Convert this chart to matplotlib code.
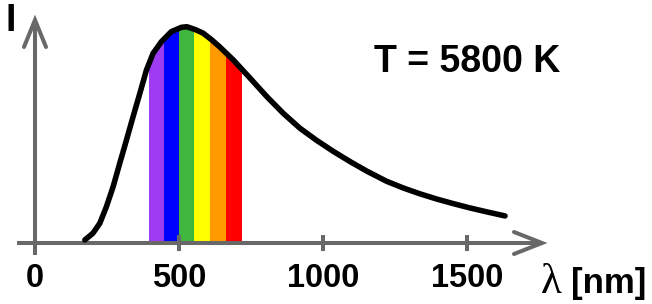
import matplotlib
matplotlib.use('Agg')
import matplotlib.pyplot as plt
from matplotlib.patches import Polygon

# ---- data ----
wavelength_nm = [173, 201, 225, 248, 271, 294, 317, 340, 364, 387, 410, 439, 473, 508,
                 527, 556, 584, 613, 642, 689, 747, 805, 862, 920, 978, 1036, 1094, 1152,
                 1221, 1279, 1337, 1395, 1452, 1510, 1568, 1632]
intensity = [1.4, 4.5, 9.1, 16.8, 25.9, 36.7, 47.3, 58.1, 69.1, 79.9, 87.6, 93.0, 97.6, 99.6,
             99.9, 98.6, 96.9, 93.9, 90.5, 84.5, 76.1, 67.6, 59.9, 53.0, 47.4, 42.3, 37.6, 33.2,
             28.5, 25.4, 22.7, 20.3, 18.2, 16.2, 14.4, 12.5]
band_edges_nm = [396, 448, 500, 552, 607, 662, 718]
band_colors = ['#9d3cf2', '#0000ff', '#3fb73f', '#ffff00', '#ff9900', '#ff0000']
tick_values = [500, 1000, 1500]
label_values = [0, 500, 1000, 1500]
label_texts = ['0', '500', '1000', '1500']
temperature_label = 'T = 5800 K'
y_label = 'I'
x_symbol = '\u03bb'
x_unit = '[nm]'

# ---- figure ----
W, H = 652, 304
fig = plt.figure(figsize=(W / 100, H / 100), dpi=100)
fig.patch.set_facecolor('white')
ax = fig.add_axes([0, 0, 1, 1])

# pixel <-> data mapping (origin px 35, baseline py 243)
X0, XS = 35.0, 0.288
Y0, YS = 243.0, 2.165
def px2x(px):
    return (px - X0) / XS
def py2y(py):
    return (Y0 - py) / YS

ax.set_xlim(px2x(0), px2x(W))
ax.set_ylim(py2y(H), py2y(0))
ax.axis('off')

AX_COL = '#686868'
AX_LW = 2.9
SANS = 'Liberation Sans'

# visible spectrum bands, clipped to the area under the curve
area = Polygon(list(zip(wavelength_nm, intensity)) + [(wavelength_nm[-1], 0), (wavelength_nm[0], 0)],
               closed=True, facecolor='none', edgecolor='none', transform=ax.transData)
ax.add_patch(area)
lefts = band_edges_nm[:-1]
widths = [b - a for a, b in zip(band_edges_nm[:-1], band_edges_nm[1:])]
bars = ax.bar(lefts, [120] * len(lefts), width=widths, bottom=0, align='edge',
              color=band_colors, edgecolor='none', zorder=1)
for b in bars:
    b.set_clip_path(area)

# axes with arrows
ax.plot([px2x(17), px2x(540)], [0, 0], color=AX_COL, lw=AX_LW, solid_capstyle='butt', zorder=2)
ax.plot([px2x(514), px2x(542), px2x(514)], [py2y(232), py2y(243), py2y(254)],
        color=AX_COL, lw=AX_LW, solid_joinstyle='miter', solid_capstyle='round', zorder=2)
ax.plot([0, 0], [py2y(255), py2y(22)], color=AX_COL, lw=AX_LW, solid_capstyle='butt', zorder=2)
ax.plot([px2x(24), px2x(35), px2x(46)], [py2y(47), py2y(20), py2y(47)],
        color=AX_COL, lw=AX_LW, solid_joinstyle='miter', solid_capstyle='round', zorder=2)
for v in tick_values:
    ax.plot([v, v], [py2y(235), py2y(251)], color=AX_COL, lw=AX_LW, solid_capstyle='butt', zorder=2)

# curve
ax.plot(wavelength_nm, intensity, color='black', lw=4.0, solid_capstyle='round',
        solid_joinstyle='round', zorder=3)

# texts
for v, t in zip(label_values, label_texts):
    ax.text(v, py2y(287), t, ha='center', va='baseline', fontsize=23.5,
            fontweight='bold', family=SANS)
ax.text(px2x(374), py2y(72), temperature_label, ha='left', va='baseline', fontsize=27,
        fontweight='bold', family=SANS)
ax.text(px2x(5), py2y(31), y_label, ha='left', va='baseline', fontsize=27,
        fontweight='bold', family=SANS)
ax.text(px2x(541), py2y(293), x_symbol, ha='left', va='baseline', fontsize=31,
        family='Liberation Serif')
ax.text(px2x(571), py2y(293), x_unit, ha='left', va='baseline', fontsize=25,
        fontweight='bold', family=SANS)

fig.savefig('out.png', dpi=100, facecolor='white')
